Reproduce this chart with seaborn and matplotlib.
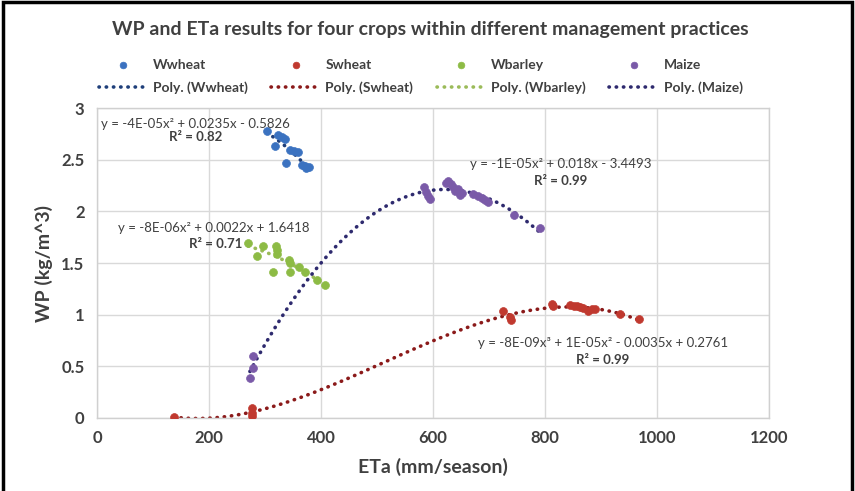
import matplotlib
matplotlib.use("Agg")
import matplotlib.pyplot as plt
import seaborn as sns
import pandas as pd
from matplotlib.patches import Rectangle

# ------------------------------------------
# data (ETa mm/season, WP kg/m^3)
# ------------------------------------------
ww_eta = [303, 324, 330, 336, 317, 345, 352, 358, 337, 366, 371, 374, 378]
ww_wp = [2.78, 2.74, 2.72, 2.70, 2.63, 2.59, 2.58, 2.57, 2.47, 2.45, 2.44, 2.42, 2.43]

sw_eta = [137, 276, 276, 276, 724, 738, 740, 812, 815, 845, 852, 857, 863, 868, 877, 883, 889, 934, 967]
sw_wp = [0.01, 0.10, 0.05, 0.02, 1.04, 0.98, 0.95, 1.10, 1.08, 1.09, 1.08, 1.08, 1.07, 1.06, 1.04, 1.05, 1.05, 1.01, 0.96]

wb_eta = [270, 297, 320, 322, 286, 321, 342, 314, 345, 360, 371, 392, 407, 345]
wb_wp = [1.69, 1.66, 1.66, 1.63, 1.57, 1.59, 1.53, 1.41, 1.41, 1.46, 1.41, 1.34, 1.29, 1.50]

mz_eta = [273, 279, 279, 584, 588, 591, 595, 624, 627, 632, 636, 640, 645, 648, 652, 672, 680, 687, 693, 699, 745, 791]
mz_wp = [0.39, 0.48, 0.60, 2.24, 2.19, 2.15, 2.12, 2.27, 2.29, 2.26, 2.24, 2.20, 2.22, 2.16, 2.18, 2.17, 2.15, 2.13, 2.11, 2.09, 1.96, 1.84]

crops = ['Wwheat', 'Swheat', 'Wbarley', 'Maize']
fit_order = [2, 3, 2, 2]
point_colors = ['#3b72c0', '#c0392f', '#8dbb45', '#7a5aa8']
line_colors = ['#1f3f7a', '#8b1a1a', '#9bbb59', '#2e2a6e']

equations = ['y = -4E-05x² + 0.0235x - 0.5826',
             'y = -8E-09x³ + 1E-05x² - 0.0035x + 0.2761',
             'y = -8E-06x² + 0.0022x + 1.6418',
             'y = -1E-05x² + 0.018x - 3.4493']
r2_labels = ['R² = 0.82', 'R² = 0.99', 'R² = 0.71', 'R² = 0.99']
eq_pos = [(176, 2.85), (903, 0.725), (209, 1.84), (828, 2.46)]
r2_pos = [(176, 2.72), (903, 0.56), (211, 1.68), (828, 2.29)]

frames = []
for name, xs, ys in zip(crops, [ww_eta, sw_eta, wb_eta, mz_eta], [ww_wp, sw_wp, wb_wp, mz_wp]):
    frames.append(pd.DataFrame({'ETa': xs, 'WP': ys, 'crop': name}))
df = pd.concat(frames, ignore_index=True)

# ------------------------------------------
# plot
# ------------------------------------------
sns.set_style('white')
plt.rcParams['font.family'] = ['Lato', 'DejaVu Sans']
txt = '#404040'

fig = plt.figure(figsize=(8.55, 4.91), dpi=100)
ax = fig.add_axes([0.1135, 0.1487, 0.7860, 0.6313])

handles = []
for i, name in enumerate(crops):
    sub = df[df['crop'] == name]
    sns.regplot(data=sub, x='ETa', y='WP', order=fit_order[i], ci=None, scatter=False,
                truncate=True, ax=ax,
                line_kws=dict(color=line_colors[i], lw=2.6, linestyle=(0, (0.1, 1.9)),
                              dash_capstyle='round', zorder=2))
    line = ax.lines[-1]
    sns.scatterplot(data=sub, x='ETa', y='WP', color=point_colors[i], s=32,
                    edgecolor=point_colors[i], linewidth=0.5, ax=ax, zorder=3, legend=False)
    pts = ax.collections[-1]
    handles += [pts, line]

labels = []
for name in crops:
    labels += [name, 'Poly. (%s)' % name]

for i in range(4):
    ax.text(eq_pos[i][0], eq_pos[i][1], equations[i], ha='center', va='center',
            fontsize=9.5, color=txt, zorder=4)
    ax.text(r2_pos[i][0], r2_pos[i][1], r2_labels[i], ha='center', va='center',
            fontsize=9.5, color=txt, fontweight='bold', zorder=4)

ax.set_xlim(0, 1200)
ax.set_ylim(0, 3)
ax.set_xticks(range(0, 1201, 200))
ax.set_yticks([0, 0.5, 1, 1.5, 2, 2.5, 3])
ax.set_yticklabels(['0', '0.5', '1', '1.5', '2', '2.5', '3'])
ax.grid(True, color='#d9d9d9', lw=1)
ax.set_axisbelow(True)
for sp in ax.spines.values():
    sp.set_color('#d0d0d0')
    sp.set_linewidth(1)
ax.tick_params(length=0, pad=9, labelsize=12, labelcolor=txt)
for lab in ax.get_xticklabels() + ax.get_yticklabels():
    lab.set_fontweight('bold')

ax.set_xlabel('ETa (mm/season)', fontsize=14, fontweight='bold', color=txt, labelpad=8)
ax.set_ylabel('WP (kg/m^3)', fontsize=14, fontweight='bold', color=txt, labelpad=6)

fig.suptitle('WP and ETa results for four crops within different management practices',
             x=0.503, y=0.958, fontsize=14, fontweight='bold', color=txt)

leg = fig.legend(handles, labels, ncol=4, loc='center', bbox_to_anchor=(0.492, 0.845),
                 frameon=False, fontsize=10, handlelength=3.5, handletextpad=0.4,
                 columnspacing=1.7, labelspacing=0.75, markerscale=0.85)
for t in leg.get_texts():
    t.set_fontweight('bold')
    t.set_color(txt)

# outer chart border (open at the bottom, as in the screenshot)
fig.patches.append(Rectangle((0.003, -0.05), 0.994, 1.045, transform=fig.transFigure,
                             fill=False, edgecolor='black', lw=2.5))

fig.savefig('out.png', dpi=100)
